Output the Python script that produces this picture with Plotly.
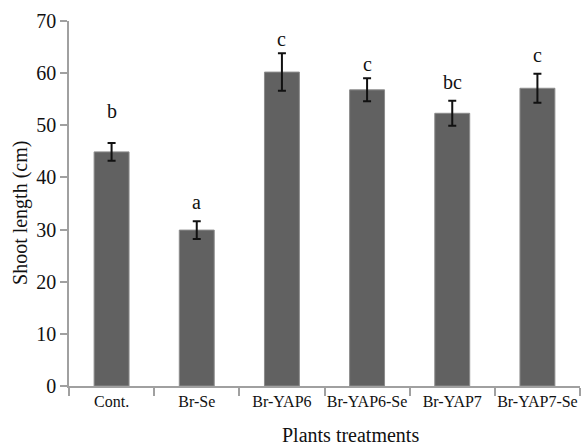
import plotly.graph_objects as go

categories = ["Cont.", "Br-Se", "Br-YAP6", "Br-YAP6-Se", "Br-YAP7", "Br-YAP7-Se"]
shoot_length = [44.9, 29.9, 60.2, 56.8, 52.3, 57.1]
std_err = [1.7, 1.7, 3.6, 2.2, 2.4, 2.8]
letters = ["b", "a", "c", "c", "bc", "c"]
letter_y = [51.2, 33.8, 65.1, 60.3, 56.8, 61.9]
y_ticks = [0, 10, 20, 30, 40, 50, 60, 70]

font_family = "'Liberation Serif', 'Times New Roman', serif"

fig = go.Figure()
fig.add_trace(go.Bar(
    x=categories,
    y=shoot_length,
    marker=dict(color="#616161", line=dict(color="#8c8c8c", width=1)),
    error_y=dict(type="data", array=std_err, visible=True,
                 color="#111111", thickness=2, width=4),
    width=0.41,
))

for cat, lab, ly in zip(categories, letters, letter_y):
    fig.add_annotation(x=cat, y=ly, text=lab, showarrow=False,
                       xref="x", yref="y", yanchor="bottom", yshift=-5,
                       font=dict(family=font_family, size=20, color="#111111"))

fig.add_annotation(x=(350 - 69) / 511, y=-0.134, xref="paper", yref="paper",
                   text="Plants treatments", showarrow=False,
                   xanchor="center", yanchor="middle",
                   font=dict(family=font_family, size=20, color="#111111"))
fig.add_annotation(x=(21 - 69) / 511, y=0.474, xref="paper", yref="paper",
                   text="Shoot length (cm)", showarrow=False, textangle=-90,
                   xanchor="center", yanchor="middle",
                   font=dict(family=font_family, size=20, color="#111111"))

fig.update_layout(
    width=581, height=446,
    margin=dict(l=69, r=1, t=21, b=60),
    paper_bgcolor="white", plot_bgcolor="white",
    showlegend=False,
    font=dict(family=font_family, color="#111111"),
)
fig.update_xaxes(
    type="category", range=[-0.5, 5.5],
    showline=True, linecolor="#a0a0a0", linewidth=1.5,
    ticks="outside", tickson="boundaries", ticklen=8, tickwidth=1.5, tickcolor="#a0a0a0",
    tickangle=0,
    tickfont=dict(family=font_family, size=16, color="#111111"),
    showgrid=False, zeroline=False,
)
fig.update_yaxes(
    range=[0, 70], tickvals=y_ticks,
    showline=True, linecolor="#a0a0a0", linewidth=1.5,
    ticks="outside", ticklen=7, tickwidth=1.5, tickcolor="#a0a0a0",
    tickfont=dict(family=font_family, size=20, color="#111111"),
    showgrid=False, zeroline=False,
)

fig.write_html("out.html", config={"displayModeBar": False},
               post_script="document.body.style.margin='0';")
